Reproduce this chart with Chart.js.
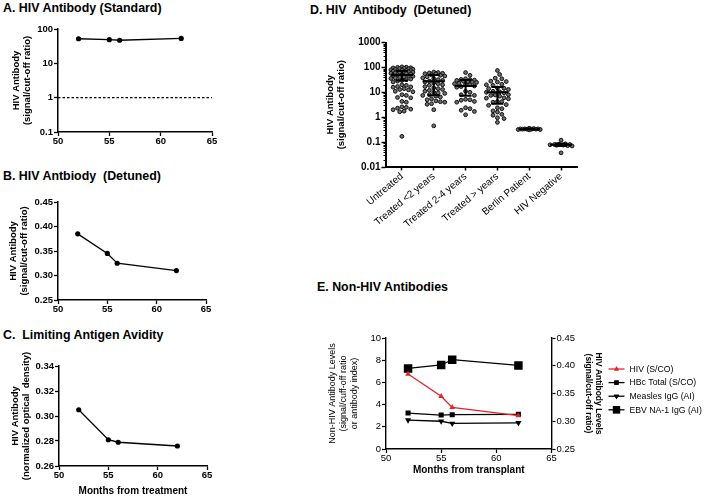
<!DOCTYPE html>
<html>
<head>
<meta charset="utf-8">
<script src="https://cdn.jsdelivr.net/npm/chart.js@4/dist/chart.umd.min.js"></script>
<style>
  html, body { margin: 0; padding: 0; background: #fff; }
  body { width: 709px; height: 497px; position: relative; overflow: hidden;
         font-family: "Liberation Sans", Arial, Helvetica, sans-serif; color: #000; }
  .title { position: absolute; font-weight: bold; font-size: 12.4px; line-height: 14px; white-space: pre; }
  .box { position: absolute; }
</style>
</head>
<body>
<div class="title" style="left:3px;top:1px">A. HIV Antibody (Standard)</div>
<div class="title" style="left:3px;top:169px">B. HIV Antbiody  (Detuned)</div>
<div class="title" style="left:3px;top:328px">C.  Limiting Antigen Avidity</div>
<div class="title" style="left:310px;top:3px">D. HIV  Antibody  (Detuned)</div>
<div class="title" style="left:317px;top:280px">E. Non-HIV Antibodies</div>

<div class="box" style="left:0;top:15px;width:240px;height:140px"><canvas id="chartA"></canvas></div>
<div class="box" style="left:0;top:185px;width:240px;height:140px"><canvas id="chartB"></canvas></div>
<div class="box" style="left:0;top:345px;width:240px;height:152px"><canvas id="chartC"></canvas></div>
<div class="box" style="left:290px;top:20px;width:300px;height:220px"><canvas id="chartD"></canvas></div>
<div class="box" style="left:290px;top:295px;width:419px;height:202px"><canvas id="chartE"></canvas></div>

<script>
// --- data ---
const months = [52, 55, 56, 62];
const standardAb = [52, 49, 47, 53];          // A, signal/cut-off
const detunedAb = [0.385, 0.345, 0.325, 0.31]; // B and red series in E
const lagAvidity = [0.305, 0.281, 0.279, 0.276];
const CUTOFF = 1;

const monthTicks = [50, 55, 60, 65];
const aTicks = [0.1, 1, 10, 100];
const bTicks = [0.25, 0.30, 0.35, 0.40, 0.45];
const cTicks = [0.26, 0.28, 0.30, 0.32, 0.34];

const groups = ['Untreated', 'Treated <2 years', 'Treated 2-4 years', 'Treated > years', 'Berlin Patient', 'HIV Negative'];
const untreated = [105, 102, 100, 97, 95, 92, 90, 88, 85, 83, 80, 78, 76, 74, 72, 70, 68, 66, 64, 62, 60, 58, 56, 54, 52, 50, 48, 46, 44, 42, 40, 38, 36, 34, 32, 30, 28, 26,
  20, 19, 17, 16.5, 16, 14, 13, 12.5, 11, 10.5, 8, 7.5, 6.2, 6, 4.3, 4, 2.6, 2.5, 2.3, 2.1, 2.0, 1.75, 1.65, 0.17];
const treatedLt2 = [65, 62, 60, 58, 56, 55, 50, 48, 45, 42, 38, 35, 32, 30, 28, 26, 24, 22, 20, 19, 17, 15, 14, 13, 12,
  11, 10, 9.5, 9, 8, 7.5, 7, 6.5, 5.5, 5, 4.5, 4.2, 4, 3.5, 3.3, 2.0, 0.45];
const treated2to4 = [62, 48, 35, 33, 32, 31, 30, 28, 27, 26, 25, 23, 22, 21, 20, 18, 17, 16, 11, 10, 8, 7.5, 5.2, 5, 4.8, 4.3, 4, 2.4, 2.2, 1.9, 1.7, 1.25];
const treatedGt = [75, 52, 37, 35, 28, 27, 26, 21, 20, 19, 15, 14.5, 14, 13, 11, 10.5, 10, 9.5, 8, 7.8, 7.5, 7, 6, 5.8, 5.5,
  4.3, 4.2, 4, 3.2, 3, 2.4, 2.2, 1.8, 1.6, 1.3, 1.2, 0.95, 0.88, 0.62];
const berlin = [0.31, 0.32, 0.32, 0.33, 0.33, 0.33, 0.33, 0.34, 0.34, 0.34, 0.35, 0.36];
const hivNegative = [0.12, 0.085, 0.082, 0.08, 0.08, 0.078, 0.076, 0.075, 0.072, 0.07, 0.037];
const groupMid = [50, 28, 18, 10, 0.33, 0.078];
const groupLow = [30, 7.7, 7.2, 3.5, 0.32, 0.07];
const groupHigh = [72, 50, 31, 16.5, 0.34, 0.088];
const dTicks = [0.01, 0.1, 1, 10, 100, 1000];

const hbcTotal = [3.24, 3.06, 3.09, 3.12];
const measlesIgG = [2.6, 2.5, 2.3, 2.35];
const ebvIgG = [7.26, 7.57, 8.05, 7.53];
const eLeftTicks = [0, 2, 4, 6, 8, 10];
const eRightTicks = [0.25, 0.30, 0.35, 0.40, 0.45];

// --- common bits ---
Chart.defaults.font.family = "'Liberation Sans', Arial, Helvetica, sans-serif";
Chart.defaults.color = '#000';
Chart.defaults.animation = false;

const fitW = w => s => { s.width = w; };
const fitH = h => s => { s.height = h; };
const setTicks = list => s => { s.ticks = list.map(v => ({ value: v })); };
const grid = (len, w) => ({ display: true, drawOnChartArea: false, tickLength: len, tickColor: '#000', tickWidth: w });
const border = w => ({ display: true, color: '#000', width: w });
const pts = ys => months.map((m, i) => ({ x: m, y: ys[i] }));
const boldTick = { size: 9.5, weight: 'bold' };

function monthAxis(title) {
  const ax = {
    type: 'linear', min: 50, max: 65,
    afterBuildTicks: setTicks(monthTicks),
    grid: grid(4, 1.3), border: border(1.5),
    ticks: { font: boldTick, padding: 0, maxRotation: 0 },
    afterFit: fitH(title ? 31 : 20)
  };
  if (title) ax.title = { display: true, text: title, font: { size: 10, weight: 'bold' }, padding: 0 };
  return ax;
}
function leftTitle(text, padTop, font) {
  return { display: true, text: text, font: font || { size: 9.5, weight: 'bold', lineHeight: 1.25 }, padding: { top: padTop, bottom: 0 } };
}
const lineSet = ys => ({ data: pts(ys), borderColor: '#000', backgroundColor: '#000', borderWidth: 1.3, pointRadius: 2.6, pointBorderWidth: 0 });
const baseOpts = pad => ({ responsive: true, maintainAspectRatio: false, layout: { padding: pad },
  plugins: { legend: { display: false }, tooltip: { enabled: false } } });

// A
new Chart(document.getElementById('chartA'), {
  type: 'line',
  data: { datasets: [
    lineSet(standardAb),
    { data: [{ x: 50, y: CUTOFF }, { x: 65, y: CUTOFF }], borderColor: '#000', borderWidth: 1.3, borderDash: [2.5, 2], pointRadius: 0 }
  ] },
  options: Object.assign(baseOpts({ left: 4, top: 14, right: 28, bottom: 3 }), {
    scales: {
      x: monthAxis(),
      y: { type: 'logarithmic', min: 0.1, max: 100, afterBuildTicks: setTicks(aTicks),
        grid: grid(4, 1.3), border: border(1.5),
        ticks: { font: boldTick, padding: 1, callback: v => String(v) },
        title: leftTitle(['HIV Antibody', '(signal/cut-off ratio)'], 6), afterFit: fitW(54) }
    }
  })
});

// B
new Chart(document.getElementById('chartB'), {
  type: 'line',
  data: { datasets: [lineSet(detunedAb)] },
  options: Object.assign(baseOpts({ left: 4, top: 17, right: 34, bottom: 5 }), {
    scales: {
      x: monthAxis(),
      y: { type: 'linear', min: 0.25, max: 0.45, afterBuildTicks: setTicks(bTicks),
        grid: grid(4, 1.3), border: border(1.5),
        ticks: { font: boldTick, padding: 1, callback: v => v.toFixed(2) },
        title: leftTitle(['HIV Antibody', '(signal/cut-off ratio)'], 3), afterFit: fitW(54) }
    }
  })
});

// C
new Chart(document.getElementById('chartC'), {
  type: 'line',
  data: { datasets: [lineSet(lagAvidity)] },
  options: Object.assign(baseOpts({ left: 4, top: 21, right: 33, bottom: 0 }), {
    scales: {
      x: monthAxis('Months from treatment'),
      y: { type: 'linear', min: 0.26, max: 0.34, afterBuildTicks: setTicks(cTicks),
        grid: grid(4, 1.3), border: border(1.5),
        ticks: { font: boldTick, padding: 1, callback: v => v.toFixed(2) },
        title: leftTitle(['HIV Antibody', '(normalized optical  density)'], 5), afterFit: fitW(55) }
    }
  })
});

// D: dot plot, points spread sideways so they do not overlap
const PX_PER_UNIT = 31.8, PX_PER_DECADE = 25, DOT = 4.4, SPREAD = 11;
function swarm(values, center) {
  const placed = [];
  const offsets = [0];
  for (let s = 2.2; s <= SPREAD; s += 2.2) offsets.push(s, -s);
  return values.slice().sort((a, b) => b - a).map(v => {
    const py = -Math.log10(v) * PX_PER_DECADE;
    let best = 0, bestGap = -1;
    for (const off of offsets) {
      let gap = Infinity;
      for (const p of placed) gap = Math.min(gap, Math.hypot(p.x - off, p.y - py));
      if (gap >= DOT) { best = off; break; }
      if (gap > bestGap) { bestGap = gap; best = off; }
    }
    placed.push({ x: best, y: py });
    return { x: center + best / PX_PER_UNIT, y: v };
  });
}
const groupValues = [untreated, treatedLt2, treated2to4, treatedGt, berlin, hivNegative];

const errorBars = {
  id: 'errorBars',
  afterDatasetsDraw(chart) {
    const { ctx, scales: { x, y } } = chart;
    ctx.save();
    ctx.strokeStyle = '#000';
    ctx.lineWidth = 2;
    groups.forEach((g, i) => {
      const cx = x.getPixelForValue(i + 1);
      const ym = y.getPixelForValue(groupMid[i]);
      const yl = y.getPixelForValue(groupLow[i]);
      const yh = y.getPixelForValue(groupHigh[i]);
      ctx.beginPath();
      ctx.moveTo(cx - 11, ym); ctx.lineTo(cx + 11, ym);
      ctx.moveTo(cx - 6, yl); ctx.lineTo(cx + 6, yl);
      ctx.moveTo(cx - 6, yh); ctx.lineTo(cx + 6, yh);
      ctx.moveTo(cx, yl); ctx.lineTo(cx, yh);
      ctx.stroke();
    });
    ctx.restore();
  }
};
const minorTicks = {
  id: 'minorTicks',
  afterDraw(chart) {
    const { ctx, scales: { y }, chartArea } = chart;
    ctx.save();
    ctx.strokeStyle = '#000';
    ctx.lineWidth = 1;
    ctx.beginPath();
    for (let e = -2; e < 3; e++) {
      for (let k = 2; k < 10; k++) {
        const py = Math.round(y.getPixelForValue(k * Math.pow(10, e))) + 0.5;
        ctx.moveTo(chartArea.left - 2.5, py); ctx.lineTo(chartArea.left, py);
      }
    }
    ctx.stroke();
    ctx.restore();
  }
};

new Chart(document.getElementById('chartD'), {
  type: 'scatter',
  data: { datasets: groupValues.map((vals, i) => ({
    data: swarm(vals, i + 1), pointRadius: 1.9, borderWidth: 1,
    borderColor: '#111', backgroundColor: '#6e6e6e'
  })) },
  options: Object.assign(baseOpts({ left: 30, top: 22.5, right: 13, bottom: 3 }), {
    scales: {
      x: { type: 'linear', min: 0.5, max: 6.5, afterBuildTicks: setTicks([1, 2, 3, 4, 5, 6]),
        grid: grid(3.5, 1.5), border: border(2),
        ticks: { font: { size: 10 }, padding: 0, autoSkip: false, minRotation: 40, maxRotation: 40,
          callback: v => groups[Math.round(v) - 1] },
        afterFit: fitH(70) },
      y: { type: 'logarithmic', min: 0.01, max: 1000, afterBuildTicks: setTicks(dTicks),
        grid: grid(4.5, 1.5), border: border(2),
        ticks: { font: { size: 10, weight: 'bold' }, padding: 1, callback: v => String(v) },
        title: leftTitle(['HIV Antibody', '(signal/cut-off ratio)'], 4.5, { size: 9.5, weight: 'bold', lineHeight: 1.2 }),
        afterFit: fitW(66) }
    }
  }),
  plugins: [errorBars, minorTicks]
});

// E
const eSeries = [
  { label: 'HIV (S/CO)', values: detunedAb, axis: 'y2', color: '#e3242b', style: 'triangle', radius: 3.3, rotation: 0 },
  { label: 'HBc Total (S/CO)', values: hbcTotal, axis: 'y', color: '#000', style: 'rect', radius: 3.6, rotation: 0 },
  { label: 'Measles IgG (AI)', values: measlesIgG, axis: 'y', color: '#000', style: 'triangle', radius: 3.6, rotation: 180 },
  { label: 'EBV NA-1 IgG (AI)', values: ebvIgG, axis: 'y', color: '#000', style: 'rect', radius: 6, rotation: 0 }
];
const eLegend = {
  id: 'eLegend',
  afterDraw(chart) {
    const { ctx, chartArea } = chart;
    const x0 = chartArea.right + 57, y0 = chartArea.top + 31, row = 13.6;
    ctx.save();
    ctx.font = "8.7px 'Liberation Sans', Arial, sans-serif";
    ctx.textBaseline = 'middle';
    eSeries.forEach((s, i) => {
      const y = y0 + i * row;
      ctx.strokeStyle = s.color; ctx.fillStyle = s.color; ctx.lineWidth = 1.3;
      ctx.beginPath(); ctx.moveTo(x0, y); ctx.lineTo(x0 + 16, y); ctx.stroke();
      Chart.helpers.drawPoint(ctx, { pointStyle: s.style, radius: s.radius * 0.85, rotation: s.rotation, borderWidth: 0 }, x0 + 8, y);
      ctx.fill();
      ctx.fillStyle = '#000';
      ctx.fillText(s.label, x0 + 21, y + 0.5);
    });
    ctx.restore();
  }
};

new Chart(document.getElementById('chartE'), {
  type: 'line',
  data: { datasets: eSeries.map(s => ({
    label: s.label, data: pts(s.values), yAxisID: s.axis,
    borderColor: s.color, backgroundColor: s.color, borderWidth: 1.3,
    pointStyle: s.style, pointRadius: s.radius, pointRotation: s.rotation, pointBorderWidth: 0
  })) },
  options: Object.assign(baseOpts({ left: 30, top: 43, right: 102.5, bottom: 20.8 }), {
    scales: {
      x: { type: 'linear', min: 50, max: 65, afterBuildTicks: setTicks(monthTicks),
        grid: grid(4, 1.2), border: border(1.4),
        ticks: { font: { size: 9.5 }, padding: 0, maxRotation: 0 },
        title: { display: true, text: 'Months from transplant', font: { size: 10, weight: 'bold' }, padding: 0 },
        afterFit: fitH(27.2) },
      y: { type: 'linear', position: 'left', min: 0, max: 10, afterBuildTicks: setTicks(eLeftTicks),
        grid: grid(4, 1.2), border: border(1.4),
        ticks: { font: { size: 9.5 }, padding: 1 },
        title: leftTitle(['Non-HIV Antibody Levels', '(signal/cuff-off ratio', 'or antibody index)'], 7.5, { size: 9, lineHeight: 1.22 }),
        afterFit: fitW(66) },
      y2: { type: 'linear', position: 'right', min: 0.25, max: 0.45, afterBuildTicks: setTicks(eRightTicks),
        grid: grid(4, 1.2), border: border(1.4),
        ticks: { font: { size: 9.5 }, padding: 1, callback: v => v.toFixed(2) },
        title: leftTitle(['HIV Antibody Levels', '(signal/cut-off ratio)'], 3, { size: 8.5, weight: 'bold', lineHeight: 1.2 }),
        afterFit: fitW(55) }
    }
  }),
  plugins: [eLegend]
});
</script>
</body>
</html>
